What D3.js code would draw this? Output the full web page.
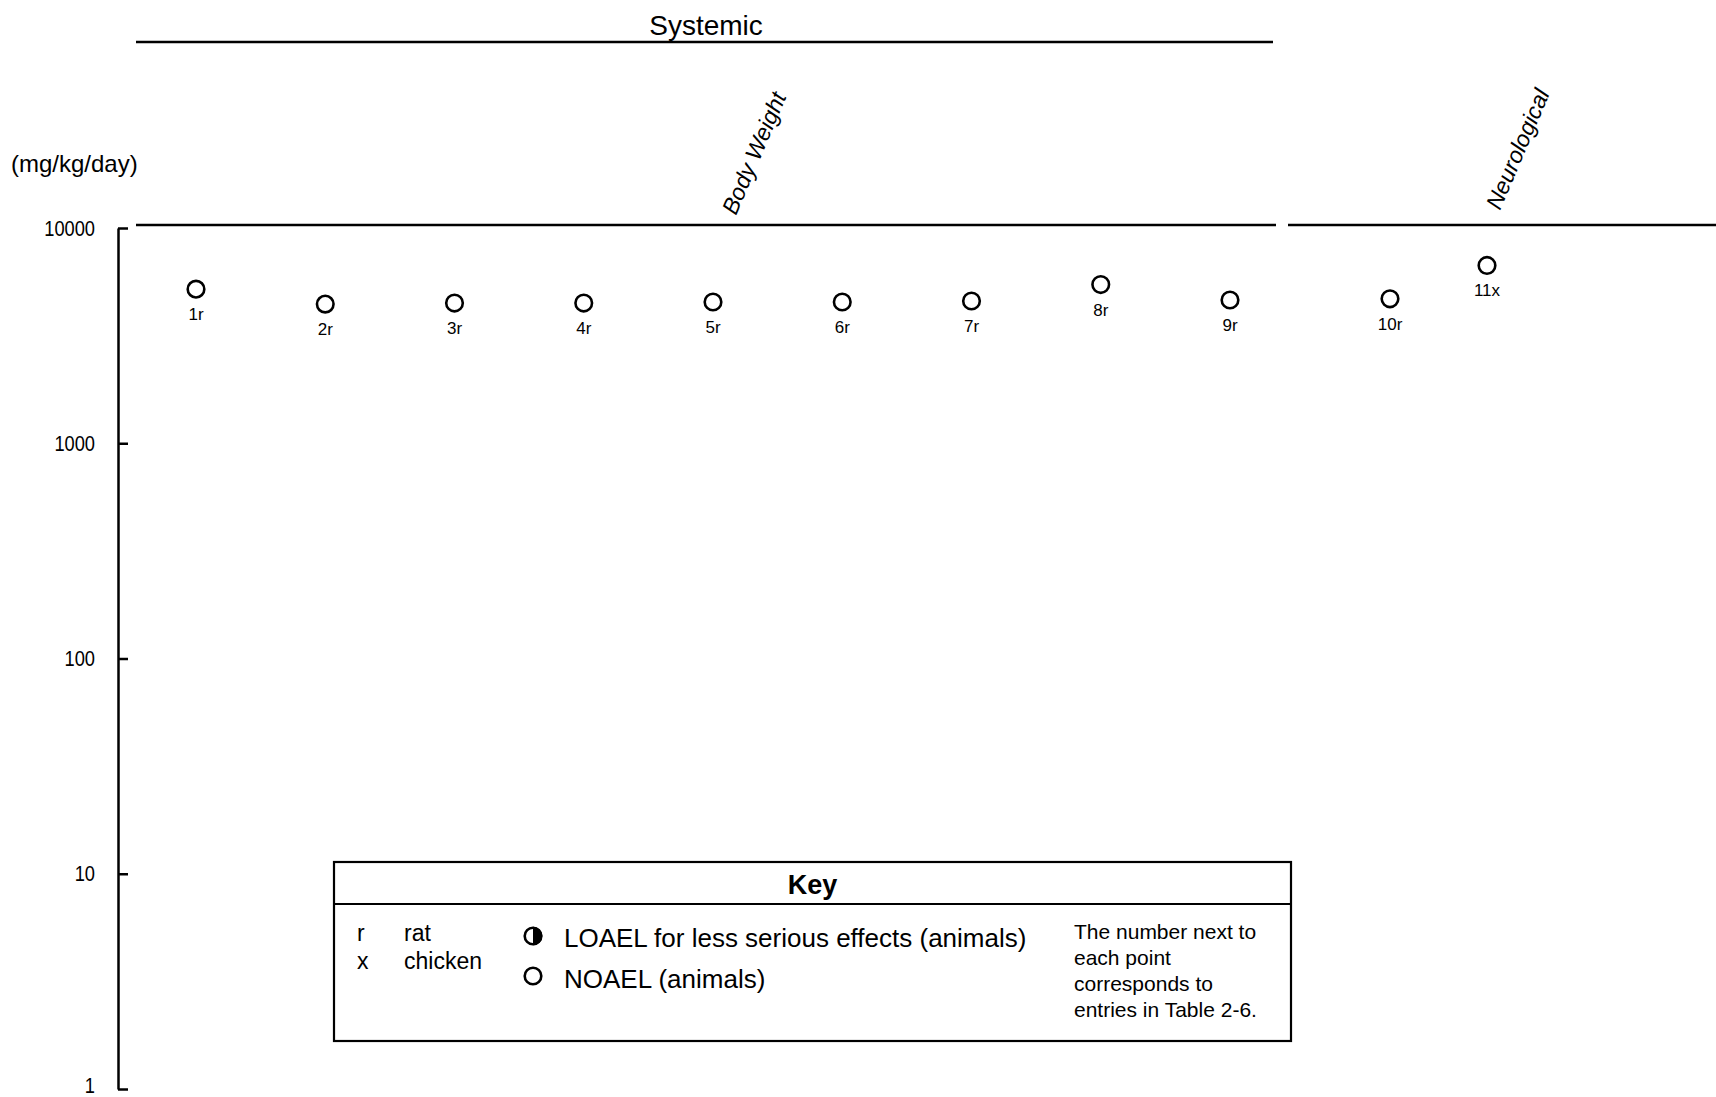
<!DOCTYPE html>
<html>
<head>
<meta charset="utf-8">
<script src="https://cdn.jsdelivr.net/npm/d3@7"></script>
<style>
  body { margin: 0; background: #fff; }
  text { font-family: "Liberation Sans", Arial, Helvetica, sans-serif; fill: #000; }
</style>
</head>
<body>
<div id="chart"></div>
<script>
(function () {
    // Values (mg/kg/day)
    const pointIds = ["1r", "2r", "3r", "4r", "5r", "6r", "7r", "8r", "9r", "10r", "11x"];
    const endpoints = ["Body Weight", "Body Weight", "Body Weight", "Body Weight", "Body Weight",
        "Body Weight", "Body Weight", "Body Weight", "Body Weight", "Neurological", "Neurological"];
    const doses = [5200, 4430, 4480, 4480, 4530, 4530, 4580, 5460, 4630, 4690, 6700];
    const yTicks = [1, 10, 100, 1000, 10000];
    const speciesKey = [["r", "rat"], ["x", "chicken"]];
    const effectKey = ["LOAEL for less serious effects (animals)", "NOAEL (animals)"];
    const noteLines = ["The number next to", "each point", "corresponds to", "entries in Table 2-6."];

    const width = 1716, height = 1097;
    const axisX = 118;

    const svg = d3.select("#chart")
        .append("svg")
        .attr("width", width)
        .attr("height", height);

    // Log dose scale
    const y = d3.scaleLog().domain([1, 10000]).range([1089, 228]);

    // Each endpoint column gets its own span and point scale
    const groupSpans = {
        "Body Weight": { line: [136, 1276], points: [196, 1230], label: [736, 216] },
        "Neurological": { line: [1288, 1716], points: [1390, 1487], label: [1500, 211] },
    };
    const xScales = {};
    Object.keys(groupSpans).forEach(function (g) {
        xScales[g] = d3.scalePoint()
            .domain(pointIds.filter((d, i) => endpoints[i] === g))
            .range(groupSpans[g].points);
    });

    // Y axis, ticks pointing inward; labels are a narrow face in the original
    svg.append("g")
        .attr("transform", `translate(${axisX},0)`)
        .call(d3.axisLeft(y).tickValues(yTicks).tickFormat(d3.format("d"))
            .tickSize(-10).tickSizeOuter(0).tickPadding(23))
        .call(g => g.selectAll("path, line").attr("stroke", "#000").attr("stroke-width", 2.5))
        .call(g => g.selectAll("text")
            .attr("font-size", 22)
            .attr("font-family", "Liberation Sans, Arial, sans-serif")
            .attr("x", 0)
            .attr("dy", d => d === 1 ? "0.18em" : "0.32em")
            .attr("transform", "translate(-23,0) scale(0.83,1)"));

    svg.append("text")
        .attr("x", 11)
        .attr("y", 172)
        .attr("font-size", 24)
        .text("(mg/kg/day)");

    // Systemic header
    svg.append("line")
        .attr("x1", 136).attr("x2", 1273)
        .attr("y1", 42).attr("y2", 42)
        .attr("stroke", "#000").attr("stroke-width", 2.5);
    svg.append("text")
        .attr("x", 706).attr("y", 35)
        .attr("text-anchor", "middle")
        .attr("font-size", 28)
        .text("Systemic");

    // Endpoint headers: line at top of axis plus slanted label
    Object.keys(groupSpans).forEach(function (g) {
        const s = groupSpans[g];
        svg.append("line")
            .attr("x1", s.line[0]).attr("x2", s.line[1])
            .attr("y1", y(10000) - 3).attr("y2", y(10000) - 3)
            .attr("stroke", "#000").attr("stroke-width", 2.5);
        svg.append("text")
            .attr("transform", `translate(${s.label[0]},${s.label[1]}) rotate(-67)`)
            .attr("font-size", 23)
            .attr("font-style", "italic")
            .text(g);
    });

    // NOAEL points
    const pts = svg.append("g")
        .selectAll("g")
        .data(pointIds)
        .join("g")
        .attr("transform", (d, i) => `translate(${xScales[endpoints[i]](d)},${y(doses[i])})`);
    pts.append("circle")
        .attr("r", 8.3)
        .attr("fill", "#fff")
        .attr("stroke", "#000")
        .attr("stroke-width", 2.6);
    pts.append("text")
        .attr("y", 31)
        .attr("text-anchor", "middle")
        .attr("font-size", 17)
        .text(d => d);

    // Key box
    const key = { x0: 334, x1: 1291, top: 862, sep: 904, bottom: 1041 };
    svg.append("rect")
        .attr("x", key.x0).attr("y", key.top)
        .attr("width", key.x1 - key.x0).attr("height", key.bottom - key.top)
        .attr("fill", "none").attr("stroke", "#000").attr("stroke-width", 2.2);
    svg.append("line")
        .attr("x1", key.x0).attr("x2", key.x1)
        .attr("y1", key.sep).attr("y2", key.sep)
        .attr("stroke", "#000").attr("stroke-width", 2.2);
    svg.append("text")
        .attr("x", (key.x0 + key.x1) / 2).attr("y", 894)
        .attr("text-anchor", "middle")
        .attr("font-size", 27).attr("font-weight", "bold")
        .text("Key");

    speciesKey.forEach(function (d, i) {
        svg.append("text").attr("x", 357).attr("y", 941 + i * 28).attr("font-size", 23).text(d[0]);
        svg.append("text").attr("x", 404).attr("y", 941 + i * 28).attr("font-size", 23).text(d[1]);
    });

    // LOAEL symbol: circle with right half filled
    const sym = svg.append("g").attr("transform", "translate(533,936)");
    sym.append("circle").attr("r", 8.3).attr("fill", "#fff").attr("stroke", "#000").attr("stroke-width", 2.6);
    sym.append("path").attr("d", d3.arc()({ innerRadius: 0, outerRadius: 9.3, startAngle: 0, endAngle: Math.PI }));
    svg.append("circle").attr("cx", 533).attr("cy", 976).attr("r", 8.3)
        .attr("fill", "#fff").attr("stroke", "#000").attr("stroke-width", 2.6);

    effectKey.forEach(function (d, i) {
        svg.append("text").attr("x", 564).attr("y", 947 + i * 41).attr("font-size", 26).text(d);
    });

    noteLines.forEach(function (d, i) {
        svg.append("text").attr("x", 1074).attr("y", 939 + i * 26).attr("font-size", 21).text(d);
    });
})();
</script>
</body>
</html>
